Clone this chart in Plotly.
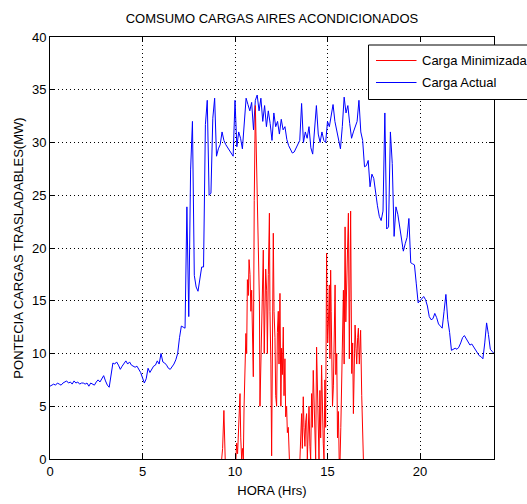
import numpy as np
import plotly.graph_objects as go

# ---------------- data ----------------
title_text = "COMSUMO CARGAS AIRES ACONDICIONADOS"
x_title = "HORA (Hrs)"
y_title = "PONTECIA CARGAS TRASLADABLES(MW)"
series_names = ["Carga Minimizada", "Carga Actual"]

x_ticks = [0, 5, 10, 15, 20]
y_ticks = [0, 5, 10, 15, 20, 25, 30, 35, 40]

# Carga Actual, sampled every 0.1 h from 0 to 24 h
hours_actual = np.round(np.arange(0, 24.0001, 0.1), 1)
load_actual = [
    6.9, 7.0, 7.1, 7.0, 7.2, 7.1, 7.0, 7.2, 7.3, 7.4,
    7.2, 7.3, 7.1, 7.4, 7.2, 7.3, 7.1, 7.2, 7.2, 7.1,
    7.2, 6.9, 7.2, 7.1, 7.0, 7.3, 7.5, 7.3, 7.6, 7.9,
    7.4, 7.0, 6.8, 8.2, 9.1, 9.0, 9.2, 8.9, 8.5, 8.8,
    9.1, 9.3, 9.0, 9.2, 8.9, 8.8, 8.7, 8.8, 8.5, 8.2,
    7.7, 7.2, 7.6, 8.6, 8.2, 8.5, 8.8, 8.9, 9.3, 9.0,
    10.0, 9.2, 9.1, 8.9, 8.6, 8.5, 8.7, 9.0, 9.4, 10.0,
    11.5, 12.6, 12.5, 12.4, 23.9, 13.5, 27.4, 32.0, 17.4, 16.3,
    15.9, 17.0, 18.2, 18.2, 31.7, 34.0, 25.0, 25.2, 32.3, 34.2,
    28.7, 29.4, 29.8, 31.0, 30.2, 29.8, 29.5, 29.3, 29.0, 28.7,
    34.0, 29.6, 31.0, 30.4, 29.4, 32.3, 34.2, 33.6, 33.0, 33.8,
    31.2, 34.0, 34.5, 33.0, 34.2, 32.0, 33.5, 31.5, 33.0, 31.8,
    30.2, 32.8, 31.5, 32.0, 30.8, 32.2, 31.2, 31.5, 30.3, 29.7,
    29.3, 29.0, 29.1, 29.5, 29.8, 30.2, 33.7, 30.0, 31.0, 30.4,
    31.5, 29.5, 28.9, 31.2, 33.5, 30.8, 30.0, 31.0, 30.2, 30.0,
    32.0, 31.5, 32.5, 33.6, 32.0, 31.2, 30.5, 29.4, 31.5, 34.3,
    32.8, 33.5, 31.8, 30.4, 31.0, 31.5, 32.0, 34.0, 31.0, 30.2,
    27.7, 27.8, 28.3, 25.8, 27.0, 26.6, 25.0, 24.0, 23.0, 22.6,
    23.5, 32.8, 21.8, 22.0, 31.0, 28.0, 21.1, 23.9, 23.2, 22.0,
    21.1, 19.7, 20.4, 21.0, 22.8, 18.6, 18.5, 18.4, 16.6, 14.8,
    15.0, 15.2, 15.4, 15.1, 14.5, 13.5, 13.2, 13.3, 13.8, 13.4,
    12.8, 12.6, 12.4, 14.0, 15.6, 13.2, 12.0, 10.3, 10.4, 10.5,
    10.4, 10.6, 11.0, 11.5, 11.7, 11.4, 11.0, 10.8, 10.9, 10.6,
    10.3, 10.1, 9.8, 9.7, 9.5, 11.0, 12.9, 11.8, 10.4, 10.2,
    10.0,
]

# Carga Minimizada (zero outside the listed bursts; None separates bursts so the
# zero baseline stays hidden under the axis line, as in the original)
hours_min = [
    9.28, 9.33, 9.40, 9.43, 9.47, None,
    10.05, 10.09, 10.14, 10.18, 10.23, 10.27, 10.31, 10.36, 10.41, 10.45,
    10.49, 10.54, 10.59, 10.63, 10.67, 10.72, 10.76, 10.81, 10.86, 10.90,
    10.95, 10.99, 11.04, 11.07, 11.10, 11.13, 11.17, 11.22, 11.26, 11.32,
    11.35, 11.40, 11.44, 11.49, 11.53, 11.58, 11.62, 11.66, 11.71, 11.75,
    11.80, 11.83, 11.86, 11.89, 11.94, 11.98, 12.01, 12.04, 12.07, 12.11,
    12.16, 12.20, 12.25, 12.29, 12.34, 12.38, 12.43, 12.48, 12.52, 12.56,
    12.61, 12.65, 12.70, 12.74, 12.79, 12.83, 12.88, 12.94, None,
    13.51, 13.56, 13.60, 13.64, 13.69, 13.73, 13.78, 13.82, 13.87, 13.91,
    13.96, 14.00, 14.05, 14.09, 14.14, 14.18, 14.23, 14.27, 14.32, 14.36,
    14.41, 14.45, 14.50, 14.54, 14.59, 14.63, 14.68, 14.72, 14.77, 14.81,
    14.86, 14.90, 14.95, 14.98, 15.01, 15.05, 15.10, 15.13, 15.17, 15.20,
    15.23, 15.27, 15.32, 15.36, 15.41, 15.45, 15.50, 15.54, 15.59, 15.63,
    15.68, 15.72, 15.77, 15.81, 15.86, 15.90, 15.95, 15.99, 16.04, 16.08,
    16.13, 16.18, 16.22, 16.25, 16.31, 16.36, 16.40, 16.45, 16.49, 16.54,
    16.58, 16.63, 16.67, 16.72, 16.76, 16.79, 16.85, 16.90, 16.94,
]
load_min = [
    0.0, 1.0, 4.6, 2.0, 0.0, None,
    0.0, 1.5, 0.5, 3.0, 4.6, 6.2, 2.0, 0.0, 1.0, 0.0,
    5.0, 8.1, 11.9, 10.0, 17.0, 15.5, 18.9, 17.5, 14.0, 16.0,
    11.9, 7.8, 24.5, 30.0, 33.5, 31.0, 27.0, 22.0, 21.4, 15.0,
    5.0, 9.0, 11.9, 16.0, 19.8, 10.0, 14.0, 18.0, 16.0, 10.0,
    17.5, 20.5, 23.3, 14.0, 9.0, 0.3, 10.0, 12.0, 21.4, 14.0,
    11.5, 6.0, 5.0, 12.0, 14.0, 9.0, 15.7, 5.0, 10.5, 8.0,
    12.5, 6.0, 9.5, 4.0, 5.0, 2.5, 3.0, 0.0, None,
    0.0, 2.0, 4.3, 1.0, 5.9, 3.0, 1.2, 3.5, 4.3, 0.0,
    2.5, 5.0, 1.2, 0.0, 6.2, 3.0, 8.4, 5.0, 2.5, 0.0,
    10.6, 6.0, 2.5, 0.0, 6.5, 2.0, 8.9, 4.0, 1.5, 0.0,
    7.5, 3.0, 19.5, 14.0, 11.0, 13.0, 16.5, 9.5, 17.9, 14.0,
    11.5, 5.0, 7.0, 12.0, 16.5, 8.0, 10.0, 2.0, 4.5, 0.0,
    0.0, 3.0, 7.0, 12.0, 16.0, 9.0, 22.0, 13.0, 18.0, 20.0,
    23.3, 9.5, 15.0, 23.5, 8.1, 11.0, 4.3, 9.0, 12.7, 10.5,
    9.0, 11.5, 12.4, 9.0, 11.0, 12.2, 6.0, 3.1, 0.0,
]

# ---------------- figure ----------------
FONT = "Liberation Sans, Arial, Helvetica, sans-serif"
W, H = 527, 504
ML, MR, MT, MB = 50, 33, 37, 45

fig = go.Figure()
fig.add_trace(go.Scatter(x=hours_actual, y=load_actual, mode="lines",
                         name=series_names[1],
                         line=dict(color="#0000ff", width=1)))
fig.add_trace(go.Scatter(x=hours_min, y=load_min, mode="lines",
                         name=series_names[0], connectgaps=False,
                         line=dict(color="#ff0000", width=1)))

axis_common = dict(
    showline=True, linecolor="black", linewidth=1, mirror="ticks",
    ticks="inside", ticklen=5, tickcolor="black", tickwidth=1,
    showgrid=True, gridcolor="black", gridwidth=1, griddash="1px,3px",
    zeroline=False, tickfont=dict(family=FONT, size=13, color="black"),
)
fig.update_xaxes(range=[0, 24], tickvals=x_ticks,
                 title=dict(text=x_title, font=dict(family=FONT, size=13, color="black"),
                            standoff=8),
                 **axis_common)
fig.update_yaxes(range=[0, 40], tickvals=y_ticks,
                 title=dict(text=y_title, font=dict(family=FONT, size=13, color="black"),
                            standoff=5),
                 **axis_common)

# legend box (drawn manually to match position)
def px_x(p):
    return (p - ML) / (W - ML - MR)

def px_y(p):
    return (H - MB - p) / (H - MT - MB)

shapes = [
    dict(type="rect", xref="paper", yref="paper",
         x0=px_x(368.5), x1=px_x(540), y0=px_y(99.5), y1=px_y(45),
         line=dict(color="black", width=1), fillcolor="white", layer="above"),
    dict(type="line", xref="paper", yref="paper",
         x0=px_x(376), x1=px_x(416.5), y0=px_y(60.5), y1=px_y(60.5),
         line=dict(color="#ff0000", width=1), layer="above"),
    dict(type="line", xref="paper", yref="paper",
         x0=px_x(376), x1=px_x(416.5), y0=px_y(82.5), y1=px_y(82.5),
         line=dict(color="#0000ff", width=1), layer="above"),
]
annotations = [
    dict(text=series_names[0], xref="paper", yref="paper", x=px_x(419.5), y=px_y(60.5),
         xanchor="left", yanchor="middle", showarrow=False,
         font=dict(family=FONT, size=13, color="black")),
    dict(text=series_names[1], xref="paper", yref="paper", x=px_x(419.5), y=px_y(82.5),
         xanchor="left", yanchor="middle", showarrow=False,
         font=dict(family=FONT, size=13, color="black")),
]

fig.update_layout(
    width=W, height=H,
    margin=dict(l=ML, r=MR, t=MT, b=MB, autoexpand=False),
    paper_bgcolor="white", plot_bgcolor="white",
    showlegend=False,
    title=dict(text=title_text, x=(ML + (W - ML - MR) / 2) / W, xanchor="center",
               y=1 - 18 / H, yanchor="middle", yref="container",
               font=dict(family=FONT, size=13, color="black")),
    shapes=shapes, annotations=annotations,
)

fig.write_html("out.html")
